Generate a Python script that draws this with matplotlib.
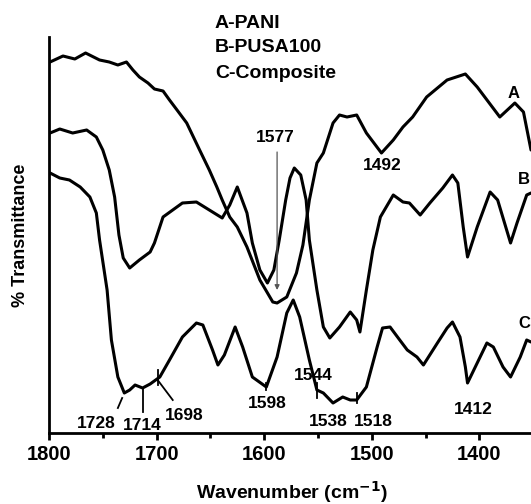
import matplotlib
matplotlib.use("Agg")
import matplotlib.pyplot as plt
from matplotlib.ticker import MultipleLocator

plt.rcParams['font.family'] = ['Liberation Sans', 'DejaVu Sans']

# curve A - PANI (wavenumber, transmittance in arbitrary units)
wn_a = [1799, 1787, 1776, 1766, 1753, 1744, 1736, 1728, 1722, 1716, 1708, 1702,
        1694, 1688, 1681, 1672, 1660, 1651, 1644, 1639, 1632, 1625, 1616, 1604,
        1592, 1588, 1579, 1570, 1564, 1558, 1551, 1545, 1536, 1530, 1523, 1514,
        1505, 1491, 1480, 1471, 1462, 1449, 1430, 1413, 1402, 1381, 1367, 1359,
        1352]
t_a = [371, 377, 374, 380, 373, 371, 368, 371, 363, 356, 350, 344,
       342, 333, 323, 310, 283, 263, 246, 233, 216, 206, 186, 153,
       131, 130, 136, 160, 188, 233, 270, 280, 310, 318, 316, 318,
       300, 280, 293, 306, 316, 336, 353, 359, 346, 316, 330, 321,
       283]

# curve B - PUSA100
wn_b = [1799, 1790, 1778, 1765, 1756, 1750, 1744, 1739, 1735, 1731, 1725, 1716,
        1706, 1702, 1694, 1676, 1663, 1651, 1639, 1632, 1625, 1616, 1611, 1604,
        1597, 1591, 1586, 1580, 1576, 1572, 1566, 1561, 1558, 1551, 1545, 1539,
        1530, 1520, 1514, 1511, 1505, 1499, 1492, 1480, 1471, 1465, 1455, 1446,
        1434, 1425, 1420, 1415, 1411, 1402, 1390, 1383, 1371, 1365, 1356, 1352]
t_b = [300, 304, 300, 303, 296, 283, 263, 236, 198, 175, 165, 173,
       181, 190, 216, 230, 231, 223, 215, 228, 246, 220, 190, 163,
       150, 163, 193, 233, 255, 265, 258, 233, 193, 143, 106, 95,
       106, 121, 113, 101, 143, 183, 216, 238, 231, 230, 218, 230,
       245, 258, 250, 206, 176, 206, 241, 233, 190, 210, 238, 240]

# curve C - Composite
wn_c = [1799, 1790, 1781, 1771, 1762, 1756, 1753, 1746, 1742, 1736, 1730, 1725,
        1720, 1713, 1706, 1697, 1688, 1676, 1663, 1657, 1648, 1643, 1637, 1627,
        1620, 1611, 1598, 1588, 1579, 1573, 1567, 1558, 1551, 1545, 1536, 1527,
        1520, 1514, 1505, 1495, 1490, 1483, 1474, 1467, 1458, 1452, 1439, 1430,
        1425, 1418, 1413, 1411, 1402, 1393, 1387, 1378, 1371, 1362, 1356, 1352]
t_c = [260, 255, 253, 246, 236, 220, 193, 143, 93, 56, 40, 43,
       48, 45, 49, 56, 73, 96, 110, 108, 83, 68, 78, 106,
       86, 56, 46, 76, 120, 133, 116, 73, 43, 40, 30, 36,
       33, 33, 46, 86, 105, 106, 93, 83, 76, 68, 90, 105,
       111, 96, 66, 50, 70, 90, 86, 66, 56, 76, 93, 91]

# peak labels: text, x, y
peak_txt = ["1577", "1492", "1728", "1714", "1698", "1598", "1544", "1538", "1518", "1412"]
peak_x = [1590, 1490, 1756, 1713, 1674, 1597, 1554, 1540, 1499, 1406]
peak_y = [296, 268, 10, 8, 18, 30, 58, 11, 11, 23]

# curve letters
lab_txt = ["A", "B", "C"]
lab_x = [1368, 1359, 1356]
lab_y = [340, 253, 110]

legend_txt = ["A-PANI", "B-PUSA100", "C-Composite"]

fig = plt.figure(figsize=(5.31, 5.04), dpi=100)
ax = fig.add_axes([49/531, 71/504, 482/531, 396/504])

for wn, t in [(wn_a, t_a), (wn_b, t_b), (wn_c, t_c)]:
    ax.plot(wn, t, color='black', lw=2.2, solid_joinstyle='round', solid_capstyle='round')

ax.set_xlim(1800, 1352)
ax.set_ylim(0, 396)

# marker lines on peaks
ax.annotate("", xy=(1588, 143), xytext=(1588, 281),
            arrowprops=dict(arrowstyle='-|>', color='#555555', lw=0.9, mutation_scale=7,
                            shrinkA=0, shrinkB=0))
ax.plot([1736, 1732], [25, 35], color='black', lw=1.3)
ax.plot([1713, 1713], [21, 45], color='black', lw=1.3)
ax.plot([1699, 1685], [53, 33], color='black', lw=1.3)
ax.plot([1699, 1699], [48, 63], color='black', lw=1.3)
ax.plot([1598, 1598], [43, 50], color='black', lw=1.3)
ax.plot([1551, 1551], [35, 50], color='black', lw=1.3)
ax.plot([1514, 1514], [30, 40], color='black', lw=1.3)

for s, x, y in zip(peak_txt, peak_x, peak_y):
    ax.text(x, y, s, ha='center', va='center', fontsize=12.5, fontweight='bold')
for s, x, y in zip(lab_txt, lab_x, lab_y):
    ax.text(x, y, s, ha='center', va='center', fontsize=12, fontweight='bold')
# keep the C inside the figure edge
ax.texts[-1].set_x(1352.3)
ax.texts[-1].set_horizontalalignment('right')

for i, s in enumerate(legend_txt):
    fig.text(215/531, 1 - (23 + 25*i)/504, s, ha='left', va='center',
             fontsize=14, fontweight='bold')

ax.spines['top'].set_visible(False)
ax.spines['right'].set_visible(False)
ax.spines['left'].set_linewidth(2)
ax.spines['bottom'].set_linewidth(2)
ax.set_yticks([])
ax.set_xticks([1800, 1700, 1600, 1500, 1400])
ax.xaxis.set_minor_locator(MultipleLocator(50))
ax.tick_params(axis='x', which='major', direction='out', length=5, width=2, pad=4, labelsize=14.5)
ax.tick_params(axis='x', which='minor', direction='out', length=3.5, width=2)
for lbl in ax.get_xticklabels():
    lbl.set_fontweight('bold')

fig.text(292/531, 1 - 492/504, r"Wavenumber (cm$^{\mathbf{-1}}$)", ha='center', va='center',
         fontsize=14, fontweight='bold')
fig.text(21/531, 1 - 235/504, "% Transmittance", ha='center', va='center',
         rotation=90, fontsize=13, fontweight='bold')

fig.savefig('out.png', dpi=100)
